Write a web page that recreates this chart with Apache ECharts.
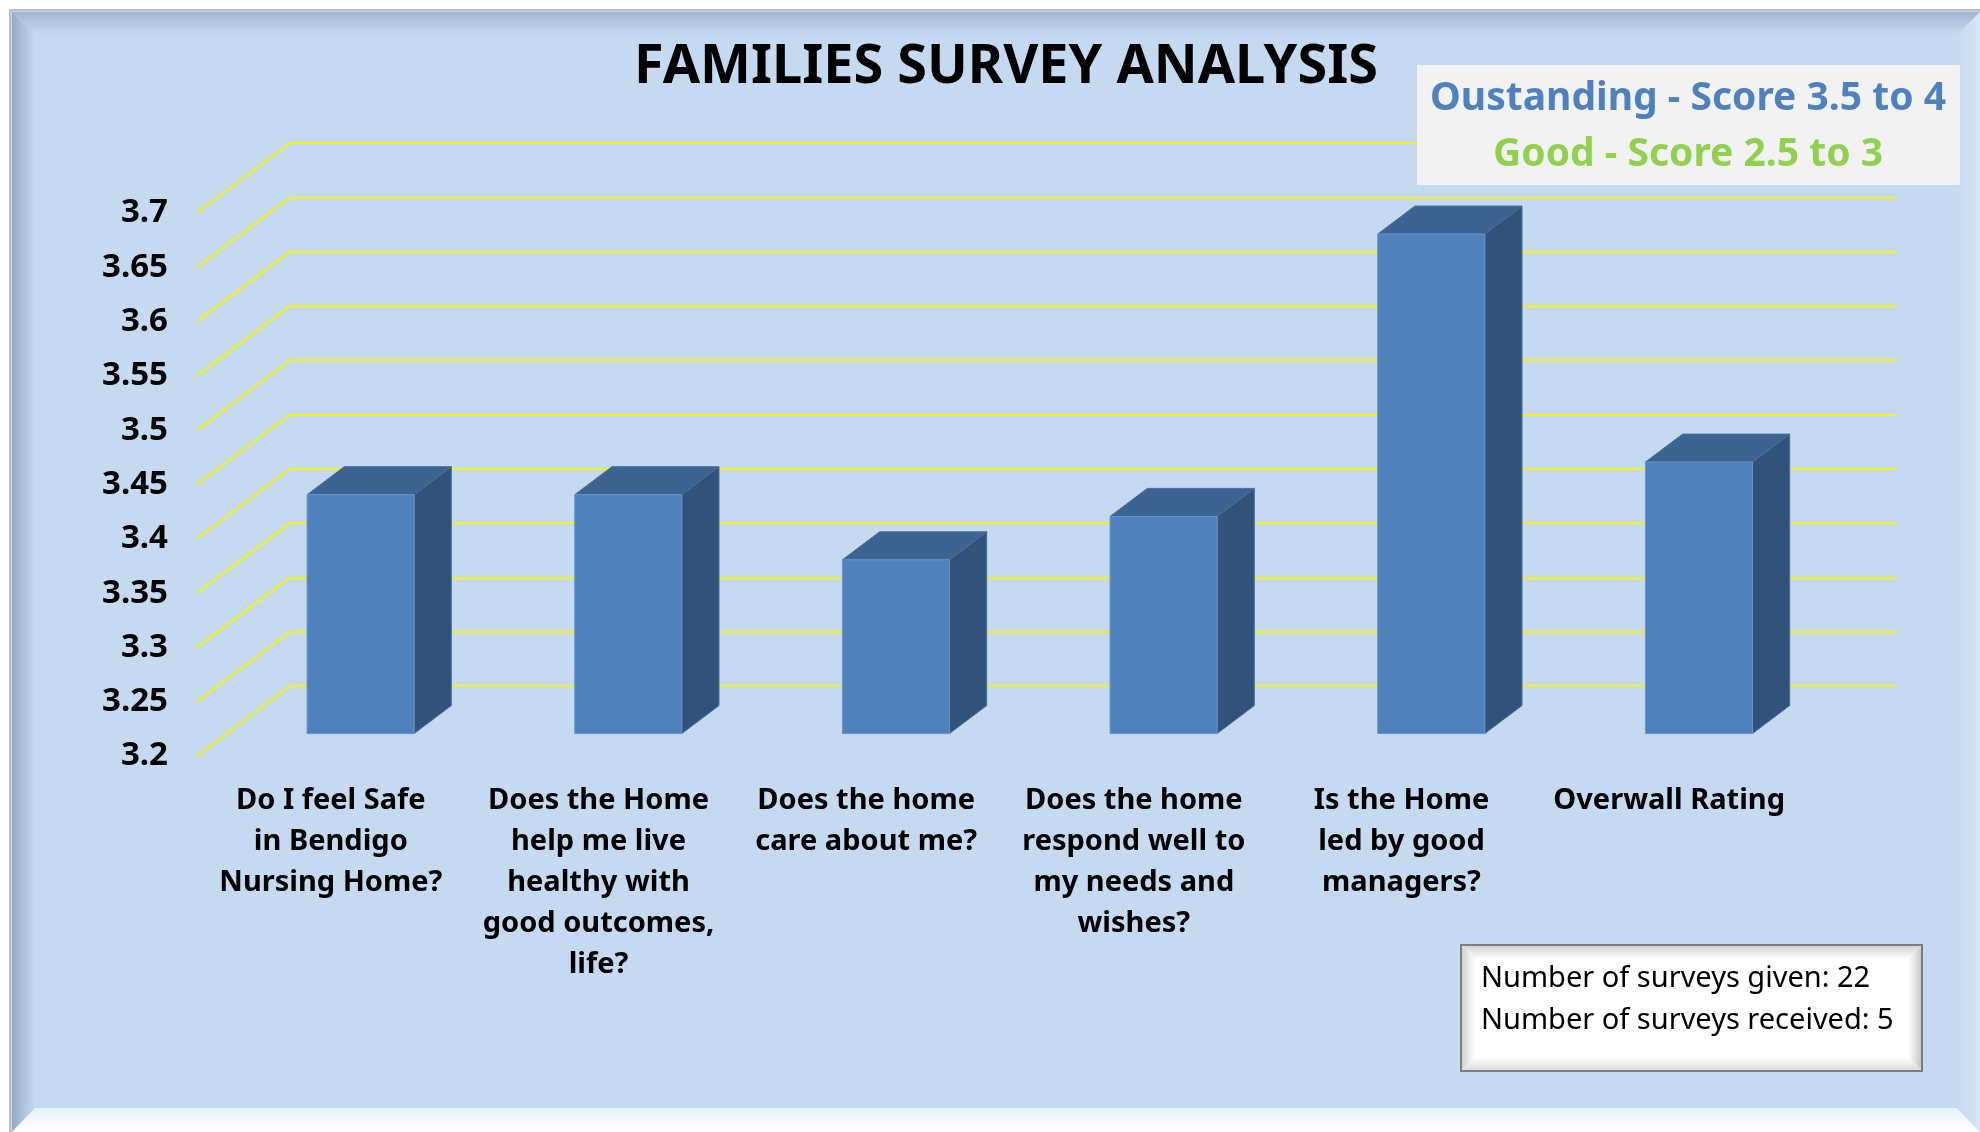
<!DOCTYPE html>
<html>
<head>
<meta charset="utf-8">
<title>Families Survey Analysis</title>
<script src="https://cdn.jsdelivr.net/npm/echarts@6/dist/echarts.min.js"></script>
<style>
  html, body { margin: 0; padding: 0; background: #ffffff; }
  #chart { width: 1980px; height: 1132px; }
</style>
</head>
<body>
<div id="chart"></div>
<script>
// ---- data -------------------------------------------------------------
const categories = [
  'Do I feel Safe\nin Bendigo\nNursing Home?',
  'Does the Home\nhelp me live\nhealthy with\ngood outcomes,\nlife?',
  'Does the home\ncare about me?',
  'Does the home\nrespond well to\nmy needs and\nwishes?',
  'Is the Home\nled by good\nmanagers?',
  'Overwall Rating'
];
const scores = [3.42, 3.42, 3.36, 3.40, 3.66, 3.45];
const tickValues = [3.2, 3.25, 3.3, 3.35, 3.4, 3.45, 3.5, 3.55, 3.6, 3.65, 3.7];
const Y_MIN = 3.2, Y_MAX = 3.7, Y_STEP = 0.05;

const titleText = 'FAMILIES SURVEY ANALYSIS';
const ratingNotes = ['Oustanding - Score 3.5 to 4', 'Good - Score 2.5 to 3'];
const surveyNotes = ['Number of surveys given: 22', 'Number of surveys received: 5'];

// ---- layout & style ---------------------------------------------------
const FONT = '"Noto Sans", "DejaVu Sans", sans-serif';
const FRONT_LEFT = 197, FRONT_TOP = 213;     // front plane (labels)
const BACK_LEFT = 290, BACK_TOP = 143;       // back wall (gridlines)
const PLOT_W = 1606, PLOT_H = 543;
const DEPTH_X = BACK_LEFT - FRONT_LEFT;      // oblique depth offset
const DEPTH_Y = BACK_TOP - FRONT_TOP;
const BAR_FRONT = 0.32, BAR_BACK = 0.72;     // bar depth as fraction of floor depth
const BAR_WIDTH = 0.40;                      // fraction of category band

const GRID_COLOR = '#f4f414';
const BAR_FRONT_COLOR = '#4f81bd';
const BAR_SIDE_COLOR = '#31527b';
const BAR_TOP_COLOR = '#3c6391';
const PANEL_BG = '#c5d9f1';

const W = 1980, H = 1132;

function grad(x, y, x2, y2, c1, c2) {
  return { type: 'linear', x: x, y: y, x2: x2, y2: y2,
           colorStops: [{ offset: 0, color: c1 }, { offset: 1, color: c2 }] };
}
function poly(points, fill, z) {
  return { type: 'polygon', z: z, silent: true, shape: { points: points }, style: { fill: fill } };
}

// outer beveled panel
const FL = 12, FT = 12, FR = W, FB = H, BV = 23, BB = 24;
const frame = [
  { type: 'rect', z: -20, silent: true,
    shape: { x: FL - 2, y: FT - 2, width: FR - FL + 2, height: FB - FT + 2 },
    style: { fill: PANEL_BG, stroke: '#b9bfc7', lineWidth: 2 } },
  poly([[FL, FT], [FR, FT], [FR - BV, FT + BV], [FL + BV, FT + BV]],
       grad(0, 0, 0, 1, '#a3b6cf', PANEL_BG), -19),
  poly([[FL, FT], [FL + BV, FT + BV], [FL + BV, FB - BB], [FL, FB]],
       grad(0, 0, 1, 0, '#97abc5', PANEL_BG), -19),
  poly([[FL, FB], [FL + BV, FB - BB], [FR - BV, FB - BB], [FR, FB]],
       grad(0, 0, 0, 1, '#e4f1fb', '#ffffff'), -19),
  poly([[FR, FT], [FR - BV, FT + BV], [FR - BV, FB - BB], [FR, FB]],
       grad(0, 0, 1, 0, PANEL_BG, '#d6e6f7'), -19)
];

// rating note box
const noteBox = [
  { type: 'rect', z: 20, silent: true,
    shape: { x: 1417, y: 65, width: 543, height: 120 },
    style: { fill: '#f2f2f2' } },
  { type: 'text', z: 21, silent: true, x: 1688, y: 99,
    style: { text: ratingNotes[0], fill: '#4f81bd', font: 'bold 39px ' + FONT,
             align: 'center', verticalAlign: 'middle' } },
  { type: 'text', z: 21, silent: true, x: 1688, y: 155,
    style: { text: ratingNotes[1], fill: '#92d050', font: 'bold 39px ' + FONT,
             align: 'center', verticalAlign: 'middle' } }
];

// survey count box with bevel
const IX = 1461, IY = 945, IW = 461, IH = 126, IB = 13;
const infoBox = [
  { type: 'rect', z: 20, silent: true, shape: { x: IX, y: IY, width: IW, height: IH },
    style: { fill: '#ffffff', stroke: '#7d7d7d', lineWidth: 2 } },
  poly([[IX + 1, IY + 1], [IX + IW - 1, IY + 1], [IX + IW - 1 - IB, IY + 1 + IB], [IX + 1 + IB, IY + 1 + IB]],
       grad(0, 0, 0, 1, '#d4d4d4', '#ffffff'), 21),
  poly([[IX + 1, IY + 1], [IX + 1 + IB, IY + 1 + IB], [IX + 1 + IB, IY + IH - 1 - IB], [IX + 1, IY + IH - 1]],
       grad(0, 0, 1, 0, '#cfcfcf', '#ffffff'), 21),
  poly([[IX + 1, IY + IH - 1], [IX + 1 + IB, IY + IH - 1 - IB], [IX + IW - 1 - IB, IY + IH - 1 - IB], [IX + IW - 1, IY + IH - 1]],
       grad(0, 0, 0, 1, '#ffffff', '#dcdcdc'), 21),
  poly([[IX + IW - 1, IY + 1], [IX + IW - 1 - IB, IY + 1 + IB], [IX + IW - 1 - IB, IY + IH - 1 - IB], [IX + IW - 1, IY + IH - 1]],
       grad(0, 0, 1, 0, '#ffffff', '#c9c9c9'), 21),
  { type: 'text', z: 22, silent: true, x: 1481, y: 979,
    style: { text: surveyNotes[0], fill: '#000000', font: '29px ' + FONT,
             align: 'left', verticalAlign: 'middle' } },
  { type: 'text', z: 22, silent: true, x: 1481, y: 1021,
    style: { text: surveyNotes[1], fill: '#000000', font: '29px ' + FONT,
             align: 'left', verticalAlign: 'middle' } }
];

const titleEl = { type: 'text', z: 5, silent: true, x: 1006, y: 68,
  style: { text: titleText, fill: '#000000', font: 'bold 54px ' + FONT,
           align: 'center', verticalAlign: 'middle' } };

// ---- series renderers -------------------------------------------------
function renderDiagonal(params, api) {
  const y = api.coord([0, api.value(1)])[1];
  const x = params.coordSys.x;
  return { type: 'line', silent: true,
    shape: { x1: x, y1: y, x2: x + DEPTH_X, y2: y + DEPTH_Y },
    style: { stroke: GRID_COLOR, lineWidth: 2 } };
}

function renderBar(params, api) {
  const i = api.value(0);
  const top = api.coord([i, api.value(1)]);
  const base = api.coord([i, Y_MIN]);
  const w = api.size([1, 0])[0] * BAR_WIDTH;
  const fx = DEPTH_X * BAR_FRONT, fy = DEPTH_Y * BAR_FRONT;
  const dx = DEPTH_X * (BAR_BACK - BAR_FRONT), dy = DEPTH_Y * (BAR_BACK - BAR_FRONT);
  const xl = top[0] - w / 2 + fx, xr = top[0] + w / 2 + fx;
  const yt = top[1] + fy, yb = base[1] + fy;
  return { type: 'group', children: [
    { type: 'polygon', shape: { points: [[xr, yt], [xr + dx, yt + dy], [xr + dx, yb + dy], [xr, yb]] },
      style: { fill: BAR_SIDE_COLOR, stroke: '#4a6d98', lineWidth: 1 } },
    { type: 'polygon', shape: { points: [[xl, yt], [xl + dx, yt + dy], [xr + dx, yt + dy], [xr, yt]] },
      style: { fill: BAR_TOP_COLOR, stroke: '#4a6d98', lineWidth: 1 } },
    { type: 'rect', shape: { x: xl, y: yt, width: xr - xl, height: yb - yt },
      style: { fill: BAR_FRONT_COLOR, stroke: '#6b95c8', lineWidth: 1 } }
  ] };
}

// ---- chart ------------------------------------------------------------
const chart = echarts.init(document.getElementById('chart'), null, { renderer: 'canvas' });
chart.setOption({
  backgroundColor: '#ffffff',
  animation: false,
  graphic: [].concat(frame, [titleEl], noteBox, infoBox),
  grid: [
    { left: BACK_LEFT, top: BACK_TOP, width: PLOT_W, height: PLOT_H },
    { left: FRONT_LEFT, top: FRONT_TOP, width: PLOT_W, height: PLOT_H }
  ],
  xAxis: [
    { gridIndex: 0, type: 'category', data: categories, show: false },
    { gridIndex: 1, type: 'category', data: categories,
      axisLine: { show: false }, axisTick: { show: false }, splitLine: { show: false },
      axisLabel: { interval: 0, margin: 24, color: '#000000', fontFamily: FONT,
                   fontWeight: 'bold', fontSize: 29, lineHeight: 41, align: 'center' } }
  ],
  yAxis: [
    { gridIndex: 0, type: 'value', min: Y_MIN, max: Y_MAX, interval: Y_STEP,
      axisLine: { show: false }, axisTick: { show: false }, axisLabel: { show: false },
      splitLine: { show: true, lineStyle: { color: GRID_COLOR, width: 2 } } },
    { gridIndex: 1, type: 'value', min: Y_MIN, max: Y_MAX, interval: Y_STEP,
      axisLine: { show: false }, axisTick: { show: false }, splitLine: { show: false },
      axisLabel: { margin: 29, color: '#000000', fontFamily: FONT,
                   fontWeight: 'bold', fontSize: 33 } }
  ],
  series: [
    { type: 'custom', name: 'floor', xAxisIndex: 1, yAxisIndex: 1, clip: false, z: 1,
      renderItem: renderDiagonal, data: tickValues.map(v => [0, v]) },
    { type: 'custom', name: 'Score', xAxisIndex: 1, yAxisIndex: 1, clip: false, z: 3,
      renderItem: renderBar, data: scores.map((v, i) => [i, v]) }
  ]
});
</script>
</body>
</html>
